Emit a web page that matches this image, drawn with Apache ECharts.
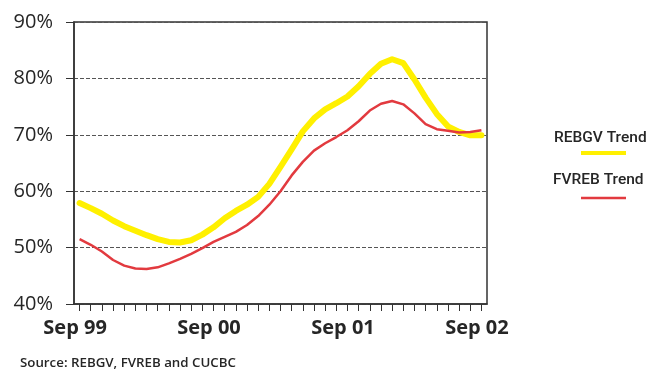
<!DOCTYPE html>
<html>
<head>
<meta charset="utf-8">
<script src="https://cdn.jsdelivr.net/npm/echarts@6/dist/echarts.min.js"></script>
<style>
html,body{margin:0;padding:0;background:#fff;}
#chart{width:648px;height:371px;}
</style>
</head>
<body>
<div id="chart"></div>
<script>
// Months Sep 99 .. Sep 02
var months = ['Sep 99','Oct 99','Nov 99','Dec 99','Jan 00','Feb 00','Mar 00','Apr 00','May 00','Jun 00','Jul 00','Aug 00',
  'Sep 00','Oct 00','Nov 00','Dec 00','Jan 01','Feb 01','Mar 01','Apr 01','May 01','Jun 01','Jul 01','Aug 01',
  'Sep 01','Oct 01','Nov 01','Dec 01','Jan 02','Feb 02','Mar 02','Apr 02','May 02','Jun 02','Jul 02','Aug 02','Sep 02'];
var labelMonths = ['Sep 99','Sep 00','Sep 01','Sep 02'];
var rebgvTrend = [57.9,57.0,56.0,54.8,53.8,53.0,52.2,51.5,51.0,50.9,51.3,52.3,
  53.6,55.2,56.5,57.6,59.0,61.3,64.3,67.4,70.6,72.9,74.5,75.6,
  76.8,78.6,80.8,82.6,83.4,82.7,79.8,76.6,73.7,71.5,70.5,69.9,69.9];
var fvrebTrend = [51.5,50.5,49.3,47.8,46.8,46.3,46.2,46.5,47.2,48.0,48.9,49.9,
  51.0,51.9,52.8,54.0,55.6,57.6,60.0,62.8,65.2,67.2,68.5,69.6,
  70.8,72.4,74.3,75.5,76.0,75.4,73.8,71.9,71.0,70.7,70.4,70.5,70.8];
var seriesNames = ['REBGV Trend','FVREB Trend'];
var sourceText = 'Source: REBGV, FVREB and CUCBC';

var YELLOW = '#FFF000', RED = '#E23A3F', INK = '#262626';
var chart = echarts.init(document.getElementById('chart'), null, {renderer:'canvas'});
chart.setOption({
  animation:false,
  backgroundColor:'#fff',
  grid:{left:74, top:22, right:161, bottom:67, show:true, borderColor:'#333', borderWidth:1.5, backgroundColor:'transparent'},
  xAxis:{
    type:'category', data:months, boundaryGap:true,
    axisLine:{show:true, lineStyle:{color:'#333', width:1.5}},
    axisTick:{show:true, alignWithLabel:true, interval:0, length:7, lineStyle:{color:'#333', width:1}},
    axisLabel:{
      interval:0, margin:14, color:INK,
      fontFamily:'Open Sans', fontWeight:'bold', fontSize:20, padding:[0,9,0,0],
      formatter:function(v){ return labelMonths.indexOf(v) >= 0 ? v : ''; }
    },
    splitLine:{show:false}
  },
  yAxis:{
    type:'value', min:40, max:90, interval:10,
    axisLine:{show:true, lineStyle:{color:'#333', width:1.5}},
    axisTick:{show:true, length:8, lineStyle:{color:'#333', width:1}},
    axisLabel:{margin:21, color:INK, fontFamily:'Open Sans', fontWeight:500, fontSize:20, formatter:'{value}%'},
    splitLine:{show:true, lineStyle:{color:'#555', type:[4,2], width:1}}
  },
  series:[
    {name:seriesNames[0], type:'line', data:rebgvTrend, showSymbol:false, symbol:'none',
     lineStyle:{color:YELLOW, width:6, cap:'round', join:'round'}, itemStyle:{color:YELLOW}, z:3},
    {name:seriesNames[1], type:'line', data:fvrebTrend, showSymbol:false, symbol:'none',
     lineStyle:{color:RED, width:2.5, join:'round'}, itemStyle:{color:RED}, z:4}
  ],
  graphic:[
    {type:'text', left:554, top:130, style:{text:seriesNames[0], fill:INK, font:'500 15.5px Roboto'}},
    {type:'line', shape:{x1:581, y1:153, x2:626, y2:153}, style:{stroke:YELLOW, lineWidth:4}},
    {type:'text', left:553, top:172, style:{text:seriesNames[1], fill:INK, font:'500 15.5px Roboto'}},
    {type:'line', shape:{x1:581, y1:198, x2:626, y2:198}, style:{stroke:RED, lineWidth:2.5}},
    {type:'text', left:20, top:357, style:{text:sourceText, fill:INK, font:'600 13.3px "Open Sans"'}}
  ]
});
</script>
</body>
</html>
